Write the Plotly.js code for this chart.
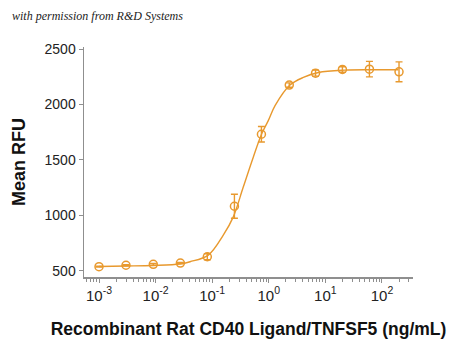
<!DOCTYPE html>
<html>
<head>
<meta charset="utf-8">
<script src="https://cdn.plot.ly/plotly-3.0.1.min.js"></script>
<style>
  html, body { margin: 0; padding: 0; background: #fff; }
  #chart { width: 450px; height: 354px; }
</style>
</head>
<body>
<div id="chart"></div>
<script>
// Measured points (concentration in ng/mL, mean RFU, error)
var concentrations = [0.001, 0.0030, 0.0091, 0.0274, 0.082, 0.247, 0.741, 2.3, 6.7, 20, 60, 200];
var meanRFU        = [536, 549, 558, 569, 626, 1082, 1732, 2176, 2284, 2317, 2320, 2296];
var errRFU         = [4, 5, 8, 5, 27, 108, 70, 20, 27, 25, 70, 90];

// Fitted curve
var curveX = [0.001, 0.0030, 0.0090, 0.027, 0.0406, 0.0853, 0.157, 0.236, 0.354, 0.532, 0.750, 0.979, 1.29, 2.37, 4.08, 7.52, 22.3, 65.9, 195];
var curveY = [538, 542, 547, 560, 581, 641, 821, 986, 1255, 1525, 1736, 1855, 1990, 2176, 2245, 2290, 2311, 2314, 2314];

var tickVals = [0.001, 0.01, 0.1, 1, 10, 100];
var tickText = ['10<sup>-3</sup>', '10<sup>-2</sup>', '10<sup>-1</sup>', '10<sup>0</sup>', '10<sup>1</sup>', '10<sup>2</sup>'];
var yTickVals = [500, 1000, 1500, 2000, 2500];

var orange = '#E8992E';
var axisGray = '#8f8f8f';
var fontFam = '"Liberation Sans", Arial, sans-serif';

var traces = [
  {
    x: curveX, y: curveY, type: 'scatter', mode: 'lines',
    line: { color: orange, width: 1.4, shape: 'spline', smoothing: 1 },
    hoverinfo: 'skip', showlegend: false
  },
  {
    x: concentrations, y: meanRFU, type: 'scatter', mode: 'markers',
    marker: { symbol: 'circle-open', size: 8, color: orange, line: { color: orange, width: 1.5 } },
    error_y: { type: 'data', array: errRFU, visible: true, color: orange, thickness: 1.4, width: 3.5 },
    showlegend: false
  }
];

var layout = {
  width: 450, height: 354,
  margin: { l: 84, r: 37, t: 47, b: 77 },
  paper_bgcolor: '#ffffff', plot_bgcolor: '#ffffff',
  font: { family: fontFam, color: '#222222', size: 14 },
  showlegend: false,
  xaxis: {
    type: 'log', range: [-3.265, 2.548],
    tickmode: 'array', tickvals: tickVals, ticktext: tickText,
    ticks: 'outside', ticklen: 4, tickwidth: 1, tickcolor: axisGray,
    minor: { ticks: 'outside', ticklen: 3, tickwidth: 1, tickcolor: axisGray, dtick: 'D1', showgrid: false },
    showline: true, linecolor: axisGray, linewidth: 1.5,
    showgrid: false, zeroline: false,
    tickfont: { family: fontFam, size: 15, color: '#222' },
    title: { text: 'Recombinant Rat CD40 Ligand/TNFSF5 (ng/mL)', font: { family: fontFam, size: 17.5, color: '#111', weight: 'bold' }, standoff: 20 }
  },
  yaxis: {
    range: [443, 2520],
    tickmode: 'array', tickvals: yTickVals,
    ticks: 'outside', ticklen: 4, tickwidth: 1, tickcolor: axisGray,
    showline: true, linecolor: axisGray, linewidth: 1.5,
    showgrid: false, zeroline: false,
    tickfont: { family: fontFam, size: 14, color: '#222' },
    title: { text: 'Mean RFU', font: { family: fontFam, size: 18, color: '#111', weight: 'bold' }, standoff: 14 }
  },
  annotations: [
    {
      text: 'with permission from R&amp;D Systems',
      xref: 'paper', yref: 'paper', x: -0.225, y: 1.135, xanchor: 'left', yanchor: 'middle',
      showarrow: false,
      font: { family: '"Liberation Serif", "DejaVu Serif", serif', size: 12, color: '#222', style: 'italic' }
    }
  ]
};

Plotly.newPlot('chart', traces, layout, { staticPlot: true, displayModeBar: false });
</script>
</body>
</html>
